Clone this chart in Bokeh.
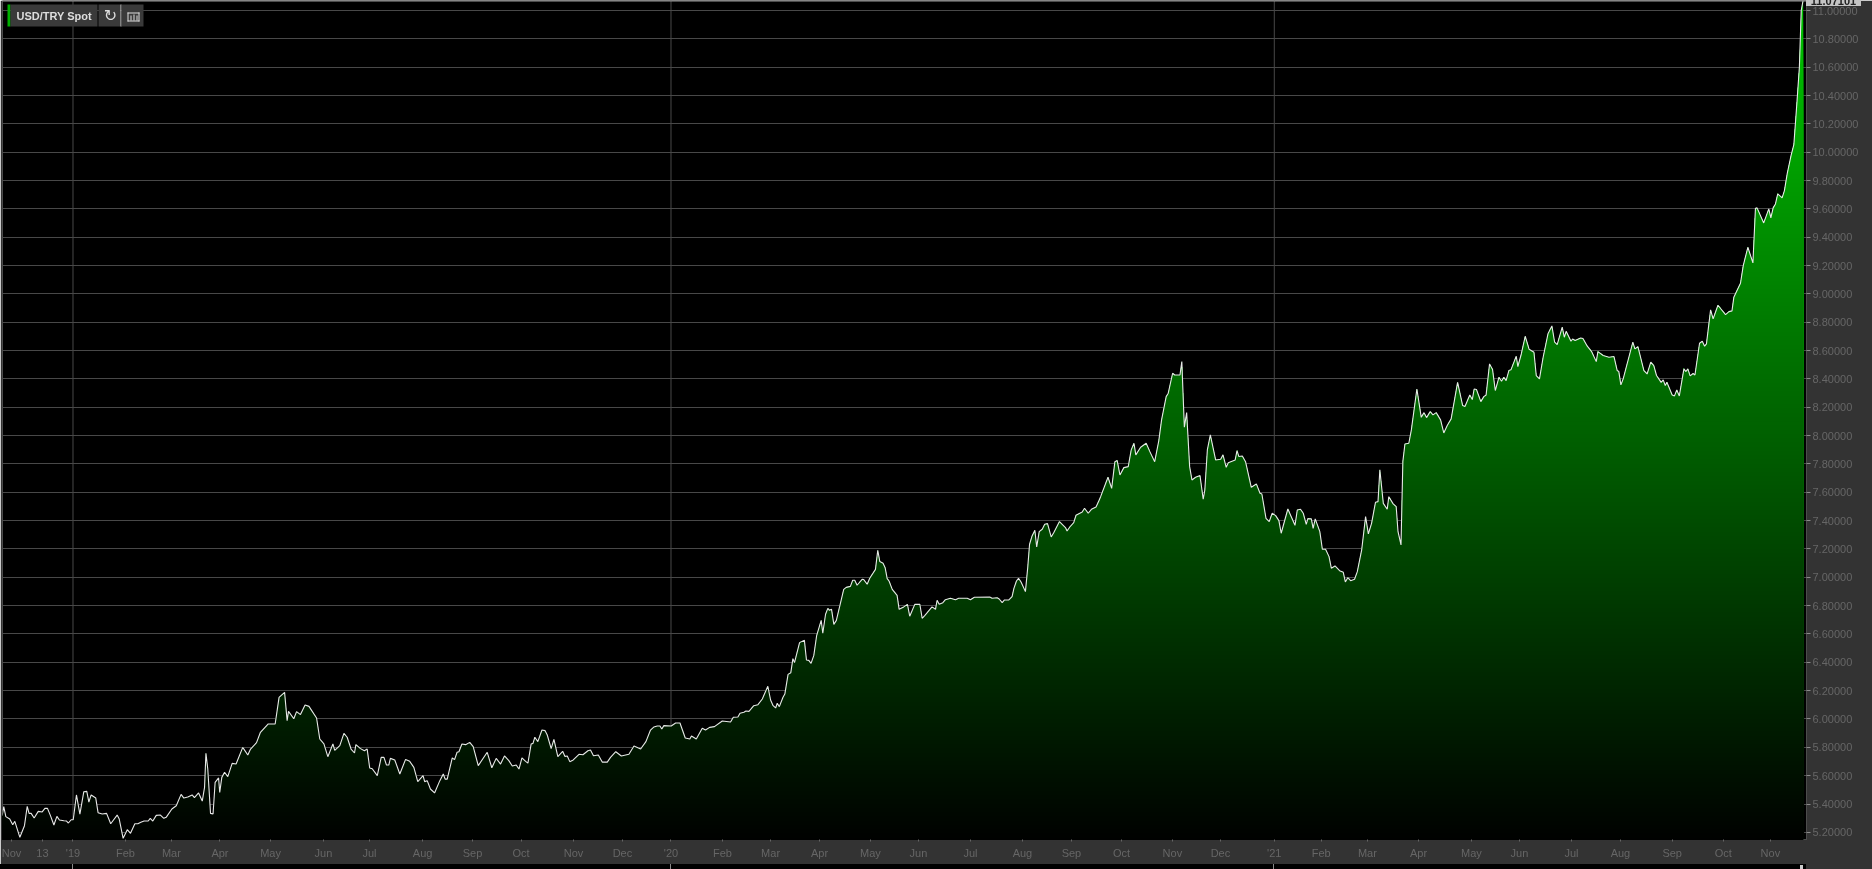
import numpy as np
from bokeh.layouts import column
from bokeh.plotting import figure
from bokeh.models import (BoxAnnotation, Div, FixedTicker, Label, LinearAxis,
                          NumeralTickFormatter, Range1d, Span)
from bokeh.embed import file_html
from bokeh.resources import INLINE

TITLE = "USD/TRY Spot"
LAST_PRICE = "11.07101"

# x is the trading session counted from the first session of 2019
sessions_a = [-30.8,-30.1,-29.2,-27.5,-26.2,-25.3,-23.1,-21.1,-19.9,-19.1,-18.2,-16.9,-15.1,-13.4,-12.2,-11.1,-9.8,-8.3,-7.0,-5.9,-4.0,-2.8,-2.0,-0.8,0.1,1.5,3.0,4.7,6.0,6.9,7.9,9.9,10.9,12.7,14.6,16.4,19.2,20.1,21.8,23.6,25.0,26.9,28.2,29.5,30.9,32.7,33.6,34.7,36.2,38.0,39.5,40.5,43.0,44.9,47.0,48.2,49.9,51.8,52.8,54.6,56.2,57.2,57.8,58.6,59.8,60.9,61.8,63.3,63.8,64.7,65.9,67.3,69.2,70.9,73.8,76.0,77.2,79.8,81.5,84.9,87.9,89.6,92.0,93.1,93.7,96.0,97.2,98.9,100.9,102.6,105.9,107.3,109.1,110.8,113.0,113.8,116.0,117.8,119.2,120.9,122.4,123.0,125.0,126.7,127.9,129.0,130.1,132.3,134.0,135.2,136.3,137.3,138.0,139.9,142.1,144.6,146.4,148.2,149.9,152.2,152.9,154.0,155.4,157.2,159.5,161.0,161.8,162.7,164.9,165.9,167.0,167.8,169.1,170.7,172.5,174.0,176.2,180.1,182.1,184.0,185.9]
prices_a = [5.318,5.381,5.311,5.294,5.254,5.278,5.165,5.247,5.384,5.334,5.334,5.301,5.348,5.344,5.369,5.369,5.318,5.252,5.313,5.287,5.282,5.28,5.266,5.289,5.289,5.464,5.329,5.487,5.489,5.414,5.464,5.442,5.339,5.329,5.334,5.261,5.322,5.294,5.158,5.219,5.193,5.261,5.261,5.271,5.28,5.28,5.299,5.28,5.32,5.322,5.299,5.306,5.365,5.388,5.468,5.442,5.449,5.464,5.445,5.478,5.421,5.518,5.758,5.647,5.334,5.329,5.553,5.584,5.482,5.588,5.624,5.593,5.687,5.682,5.8,5.746,5.788,5.833,5.906,5.965,5.965,6.153,6.188,5.988,6.054,6.002,6.052,6.031,6.099,6.089,6.007,5.859,5.824,5.734,5.824,5.779,5.812,5.899,5.871,5.788,5.76,5.819,5.791,5.776,5.788,5.654,5.649,5.6,5.729,5.729,5.675,5.675,5.722,5.711,5.612,5.715,5.701,5.659,5.558,5.6,5.558,5.565,5.506,5.478,5.565,5.612,5.576,5.576,5.725,5.713,5.765,5.769,5.824,5.819,5.835,5.805,5.671,5.765,5.656,5.722,5.682]

sessions_b = [187.6,189.5,191.0,192.7,193.9,195.2,196.8,197.8,199.2,200.0,200.8,202.1,203.9,205.2,206.2,207.9,209.1,210.8,212.9,213.9,214.9,216.0,217.5,220.0,221.7,223.9,225.0,226.3,228.4,230.1,232.3,233.7,236.0,238.4,241.7,243.9,246.8,249.1,251.1,252.6,254.0,255.2,256.0,256.9,260.1,262.0,263.9,266.2,268.2,268.9,271.0,273.6,275.0,276.8,278.9,282.3,285.9,287.1,289.1,290.0,291.7,292.6,293.9,296.0,297.8,299.7,302.1,303.3,304.4,305.5,306.2,307.1,308.7,309.5]
prices_b = [5.739,5.706,5.668,5.675,5.647,5.725,5.701,5.689,5.824,5.828,5.871,5.84,5.922,5.918,5.887,5.791,5.856,5.734,5.772,5.736,5.739,5.699,5.711,5.751,5.748,5.776,5.781,5.741,5.746,5.696,5.696,5.729,5.769,5.739,5.751,5.809,5.788,5.84,5.922,5.944,5.951,5.951,5.929,5.953,5.951,5.972,5.972,5.866,5.859,5.88,5.859,5.934,5.922,5.941,5.946,5.986,5.979,6.012,6.014,6.04,6.047,6.056,6.054,6.094,6.101,6.141,6.231,6.134,6.094,6.078,6.111,6.087,6.153,6.176]

sessions_c = [310.9,312.1,313.0,313.7,315.9,318.0,318.9,319.9,320.9,322.1,323.3,325.3,326.0,327.2,328.2,328.9,329.8,330.8,331.9,335.1,336.2,338.0,339.0,339.9,340.9,343.1,343.8,345.3,346.4,348.9,349.9,350.8,352.2,353.1,354.0,354.8,356.2,358.3,359.2,361.2,362.8,363.8,366.0,368.2,369.2,370.4,373.5,375.0,375.7,376.6,378.2,379.3,381.5,383.7,385.1,388.8,390.2,391.9,398.6,399.6,401.8,402.7,404.0,405.0,406.9,408.3,409.1,410.2,411.1,412.2,414.1,415.1,415.9,417.0,418.2,419.0,420.1,421.4,422.5,423.7,425.3,426.4,428.9,431.5,432.2,433.4,435.1,436.1,438.8,439.8,441.4,442.8,444.8,446.0]
prices_c = [6.315,6.327,6.426,6.398,6.539,6.555,6.416,6.414,6.393,6.449,6.586,6.696,6.605,6.739,6.781,6.767,6.774,6.668,6.696,6.915,6.929,6.936,6.979,6.979,6.944,6.986,6.984,6.951,6.993,7.056,7.191,7.111,7.099,7.068,6.991,6.974,6.915,6.873,6.774,6.791,6.809,6.725,6.809,6.809,6.711,6.732,6.791,6.774,6.838,6.809,6.821,6.842,6.852,6.842,6.852,6.852,6.842,6.859,6.861,6.852,6.856,6.847,6.821,6.84,6.84,6.864,6.922,6.974,6.993,6.967,6.899,7.068,7.233,7.292,7.332,7.214,7.322,7.339,7.374,7.379,7.285,7.315,7.393,7.351,7.327,7.355,7.386,7.438,7.461,7.487,7.452,7.48,7.496,7.539]

sessions_d = [446.8,450.0,451.6,453.0,454.0,455.2,456.9,458.8,460.1,461.3,462.1,464.2,466.6,468.2,470.3,472.1,473.3,475.3,476.2,478.1,479.0,481.3,482.1,483.2,484.2,485.5,486.5,488.1,490.0,491.4,492.1,493.2,494.5,496.8,499.0,500.0,501.4,502.3,505.3,506.1,506.9,508.4,509.8,512.3,514.5,516.1,516.9,518.7,520.1,521.4,522.9,524.3,525.3,528.2,531.3,532.3,533.7,534.9,536.2,536.9,538.4,539.2,540.1,542.1,543.2,544.6,546.1,547.1,548.7,550.7,552.3,553.2,554.3,555.5,557.2,558.4,560.3,562.0,563.2,564.6,566.3,567.4,568.2,569.7,571.4,572.1,574.0,575.3,576.1,577.4,578.2,579.1,580.8,581.9,584.3,586.2,587.4,588.5,590.1,591.3,592.7,594.6]
prices_d = [7.569,7.706,7.628,7.816,7.824,7.722,7.774,7.781,7.899,7.946,7.864,7.918,7.946,7.887,7.816,7.965,8.111,8.275,8.299,8.44,8.428,8.428,8.522,8.059,8.162,7.781,7.687,7.706,7.718,7.551,7.616,7.899,8.005,7.828,7.833,7.864,7.776,7.809,7.828,7.894,7.852,7.856,7.816,7.635,7.659,7.593,7.588,7.416,7.393,7.452,7.435,7.4,7.311,7.482,7.367,7.475,7.48,7.452,7.374,7.414,7.412,7.346,7.412,7.322,7.198,7.198,7.146,7.064,7.08,7.047,7.035,6.967,6.998,6.976,6.986,7.04,7.193,7.428,7.306,7.381,7.529,7.534,7.758,7.522,7.48,7.569,7.518,7.499,7.322,7.228,7.816,7.941,7.946,8.04,8.329,8.129,8.162,8.127,8.169,8.146,8.162,8.111]

sessions_e = [596.0,597.5,599.2,602.0,604.2,605.2,607.3,608.4,609.2,610.2,612.1,613.4,614.4,615.9,617.2,618.4,620.0,621.1,622.1,623.1,624.3,625.2,627.5,628.2,629.7,631.4,633.1,635.2,636.2,637.6,639.2,641.3,643.0,644.2,645.3,647.5,648.4,649.2,651.3,652.0,653.1,655.5,656.5,658.4,660.2,662.3,663.0,665.3,667.8,670.0,671.4,672.1,673.0,674.0,678.2,679.1,680.4,683.0,684.4,686.0,687.3,688.5,690.5,691.4,692.3,693.0,695.3,696.3,697.3,698.4,700.4,701.3,702.1,703.1,704.4,705.2,707.2,708.4,709.4,710.2,712.0,713.1,715.2,718.5,720.0,721.3]
prices_e = [8.019,8.071,8.118,8.376,8.212,8.205,8.287,8.254,8.329,8.325,8.24,8.275,8.287,8.506,8.466,8.318,8.412,8.384,8.412,8.388,8.459,8.464,8.56,8.487,8.576,8.701,8.609,8.588,8.424,8.4,8.553,8.718,8.774,8.659,8.642,8.765,8.694,8.736,8.666,8.682,8.671,8.689,8.685,8.631,8.595,8.522,8.593,8.565,8.553,8.558,8.459,8.452,8.358,8.4,8.659,8.612,8.628,8.459,8.435,8.518,8.494,8.424,8.376,8.393,8.353,8.376,8.287,8.28,8.322,8.28,8.471,8.452,8.471,8.421,8.438,8.428,8.652,8.666,8.631,8.647,8.887,8.824,8.92,8.854,8.875,8.88]

sessions_f = [722.1,725.0,726.2,728.2,730.4,731.5,732.2,735.1,737.3,738.2,739.2,740.2,741.2,743.1,744.1,745.3,747.0,748.2,749.6,750.6,751.4,752.2]
prices_f = [8.976,9.075,9.2,9.329,9.219,9.605,9.607,9.501,9.6,9.536,9.607,9.635,9.706,9.678,9.729,9.847,9.977,10.054,10.365,10.6,11.0,11.07]

month_labels = ["Nov","13","'19","Feb","Mar","Apr","May","Jun","Jul","Aug","Sep","Oct","Nov","Dec","'20","Feb","Mar","Apr","May","Jun","Jul","Aug","Sep","Oct","Nov","Dec","'21","Feb","Mar","Apr","May","Jun","Jul","Aug","Sep","Oct","Nov"]
month_ticks = [-26.7,-13.3,0.0,22.8,42.8,63.9,85.9,108.9,128.9,152.0,173.7,194.8,217.6,238.9,260.0,282.4,303.3,324.6,346.7,367.6,390.2,412.8,434.1,455.9,478.0,498.9,522.3,542.7,562.8,585.0,608.0,628.9,651.5,672.8,695.3,717.5,738.0]
year_ticks = [0.0, 260.0, 522.3]
price_ticks = [round(5.2 + 0.2 * i, 1) for i in range(30)]

x = np.array(sessions_a + sessions_b + sessions_c + sessions_d + sessions_e + sessions_f)
y = np.array(prices_a + prices_b + prices_c + prices_d + prices_e + prices_f)
assert len(x) == len(y) and np.all(np.diff(x) > 0)

W = 1872
PANEL = "#333333"
FONT = "Liberation Sans"
FRAME_LEFT, FRAME_BOTTOM = 2, 839

p = figure(width=W, height=864, output_backend="svg", toolbar_location=None,
           x_range=Range1d(-30.65, 753.7), y_range=Range1d(5.1496, 11.0706),
           min_border_left=2, min_border_right=66, min_border_top=0, min_border_bottom=25,
           background_fill_color="#000000", border_fill_color=PANEL,
           outline_line_color=None, x_axis_location=None, y_axis_location=None)

# axes
ya = LinearAxis(ticker=FixedTicker(ticks=price_ticks),
                formatter=NumeralTickFormatter(format="0.00000"),
                axis_line_color=None, major_tick_line_color="#8a8a8a",
                major_tick_in=0, major_tick_out=4, minor_tick_line_color=None,
                major_label_text_color="#666666", major_label_text_font=FONT,
                major_label_text_font_size="11px", major_label_standoff=2)
p.add_layout(ya, "right")
xa = LinearAxis(ticker=FixedTicker(ticks=month_ticks),
                major_label_overrides=dict(zip(month_ticks, month_labels)),
                axis_line_color=None, major_tick_line_color="#666666",
                major_tick_in=0, major_tick_out=2, minor_tick_line_color=None,
                major_label_text_color="#666666", major_label_text_font=FONT,
                major_label_text_font_size="11px", major_label_standoff=5)
p.add_layout(xa, "below")

# grid
p.ygrid.ticker = FixedTicker(ticks=price_ticks)
p.ygrid.grid_line_color = "#484848"
p.xgrid.grid_line_color = None
for t in year_ticks:
    p.add_layout(Span(location=t, dimension="height", line_color="#484848",
                      line_width=1, level="underlay"))

# vertical green fade under the line, painted brightest (tallest) first
bands = np.arange(11.1, 5.1, -0.03)
for b in bands:
    g = int(np.clip(33 * (b - 5.1), 0, 255))
    p.varea(x, y1=5.1, y2=np.minimum(y, b), fill_color=f"#00{g:02x}00")
p.line(x, y, line_color="#e8e8e8", line_width=1.1)


# screen units here count from the frame's lower left corner, upwards
def sbox(left, right, top, bottom, color):
    p.add_layout(BoxAnnotation(left=left - FRAME_LEFT, right=right - FRAME_LEFT,
                               top=FRAME_BOTTOM - top, bottom=FRAME_BOTTOM - bottom,
                               left_units="screen", right_units="screen",
                               top_units="screen", bottom_units="screen",
                               fill_color=color, fill_alpha=1, line_color=None, level="overlay"))


def slabel(sx, sy, text, font=FONT, size="11px", style="normal", color="#dddddd", align="left"):
    p.add_layout(Label(x=sx - FRAME_LEFT, y=FRAME_BOTTOM - sy, x_units="screen", y_units="screen",
                       text=text, text_align=align, text_baseline="middle", text_font=font,
                       text_font_size=size, text_font_style=style, text_color=color,
                       level="overlay"))


# top edge of the window
sbox(0, 1806, 0, 1, "#9a9a9a")

# legend chip and buttons
sbox(7, 10, 4, 26, "#00b000")
sbox(10, 97, 4, 26, "#3a3a3a")
sbox(98, 120, 4, 26, "#3a3a3a")
sbox(120, 121, 4, 26, "#e8e8e8")
sbox(121, 143, 4, 26, "#3a3a3a")
slabel(16, 15, TITLE, style="bold")
slabel(110, 15, "\u21bb", font="DejaVu Sans", size="16px", align="center")
# small bar-chart icon of the second button
sbox(127, 139, 12, 13, "#dddddd")
sbox(127, 139, 20, 21, "#dddddd")
sbox(127, 128, 12, 21, "#dddddd")
sbox(138, 139, 12, 21, "#dddddd")
sbox(130, 131, 15, 20, "#dddddd")
sbox(133, 134, 14, 20, "#dddddd")
sbox(136, 137, 15, 20, "#dddddd")


def block(left, top, width, height, color, inner=""):
    return (f'<div style="position:fixed;left:{left}px;top:{top}px;width:{width}px;height:{height}px;'
            f'background:{color};overflow:hidden;z-index:10">{inner}</div>')


# navigator strip under the time axis, and the last-price flag cut by the window top
flag_text = (f'<div style="margin-top:-4px;font:bold 11px/11px \'{FONT}\';color:#222222;'
             f'text-align:center">{LAST_PRICE}</div>')
chrome = (block(0, 864, W, 5, PANEL)
          + block(0, 864, 1806, 5, "#000000")
          + "".join(block(px, 864, 1, 5, "#8a8a8a") for px in (72, 670, 1273))
          + block(1800, 865, 3, 4, "#cccccc")
          + block(1806, 1, 66, 0, PANEL)
          + block(1806, 0, 55, 6, "#c4c4c4", flag_text))
overlay = Div(text=chrome, width=W, height=5)

page = column(p, overlay, spacing=0)
page.styles = {"position": "fixed", "left": "0", "top": "0"}

open("out.html", "w").write(file_html(page, INLINE))
